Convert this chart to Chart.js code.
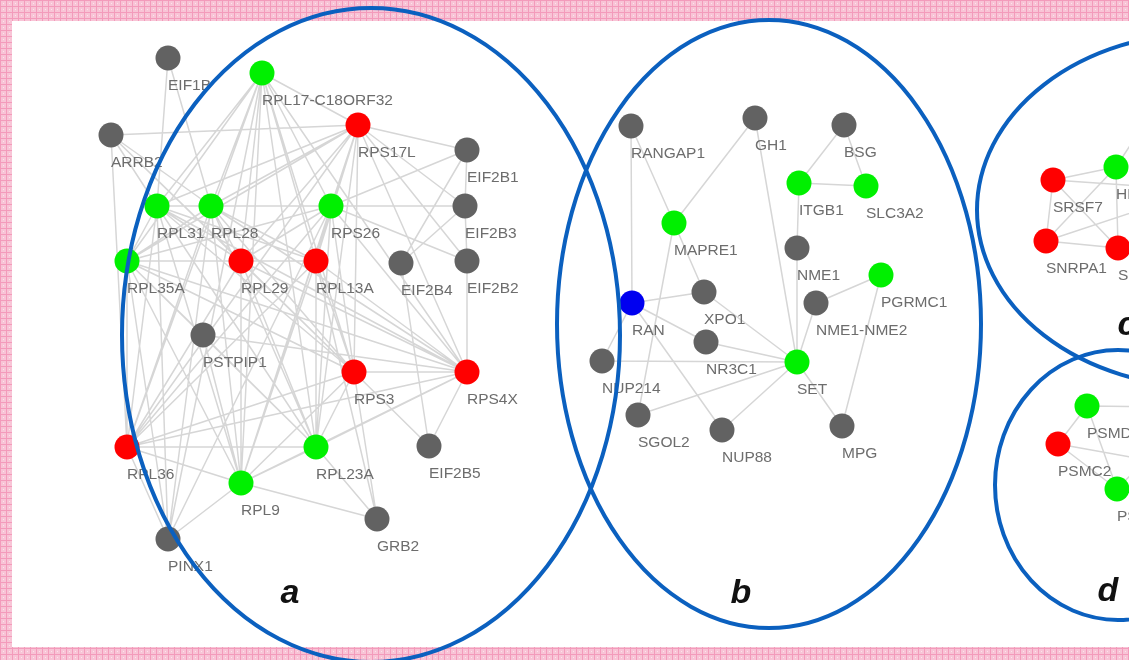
<!DOCTYPE html>
<html>
<head>
<meta charset="utf-8">
<script src="https://cdn.jsdelivr.net/npm/chart.js@4.4.1/dist/chart.umd.min.js"></script>
<style>
html, body { margin: 0; padding: 0; background: #fff; }
#wrap { width: 1129px; height: 660px; position: relative; }
</style>
</head>
<body>
<div id="wrap"><canvas id="chart_networkModules"></canvas></div>
<script>
// node table, coordinates (y grows downwards)
var nodeNames = [
  'EIF1B', 'RPL17-C18ORF32', 'ARRB2', 'RPS17L', 'EIF2B1', 'RPL31', 'RPL28', 'RPS26',
  'EIF2B3', 'RPL35A', 'RPL29', 'RPL13A', 'EIF2B4', 'EIF2B2', 'PSTPIP1', 'RPS3',
  'RPS4X', 'RPL36', 'RPL23A', 'EIF2B5', 'RPL9', 'GRB2', 'PINX1',
  'RANGAP1', 'GH1', 'BSG', 'ITGB1', 'SLC3A2', 'MAPRE1', 'NME1', 'PGRMC1', 'RAN',
  'XPO1', 'NME1-NME2', 'NR3C1', 'SET', 'NUP214', 'SGOL2', 'NUP88', 'MPG',
  'SRSF7', 'HNRNPA1', 'SNRPA1', 'SNRPB', 'c_x1', 'c_x2',
  'PSMD4', 'PSMC2', 'PSMA5', 'd_x1', 'd_x2', 'd_x3'
];
var nodeX = [
  168, 262, 111, 358, 467, 157, 211, 331,
  465, 127, 241, 316, 401, 467, 203, 354,
  467, 127, 316, 429, 241, 377, 168,
  631, 755, 844, 799, 866, 674, 797, 881, 632,
  704, 816, 706, 797, 602, 638, 722, 842,
  1053, 1116, 1046, 1118, 1150, 1200,
  1087, 1058, 1117, 1180, 1180, 1165
];
var nodeY = [
  58, 73, 135, 125, 150, 206, 206, 206,
  206, 261, 261, 261, 263, 261, 335, 372,
  372, 447, 447, 446, 483, 519, 539,
  126, 118, 125, 183, 186, 223, 248, 275, 303,
  292, 303, 342, 362, 361, 415, 430, 426,
  180, 167, 241, 248, 115, 190,
  406, 444, 489, 407, 466, 440
];
// n = no change, u = up, d = down, m = mutated, x = off the picture
var nodeKind = [
  'n', 'u', 'n', 'd', 'n', 'u', 'u', 'u',
  'n', 'u', 'd', 'd', 'n', 'n', 'n', 'd',
  'd', 'd', 'u', 'n', 'u', 'n', 'n',
  'n', 'n', 'n', 'u', 'u', 'u', 'n', 'u', 'm',
  'n', 'n', 'n', 'u', 'n', 'n', 'n', 'n',
  'd', 'u', 'd', 'd', 'x', 'x',
  'u', 'd', 'u', 'x', 'x', 'x'
];

// adjacency lists
var links = [
  ['RPL17-C18ORF32', ['RPS17L', 'RPL31', 'RPL28', 'RPS26', 'RPL35A', 'RPL29', 'RPL13A', 'RPS3', 'RPS4X', 'RPL36', 'RPL23A', 'RPL9', 'PINX1']],
  ['RPS17L', ['ARRB2', 'RPL31', 'RPL28', 'RPS26', 'RPL35A', 'RPL29', 'RPL13A', 'RPS3', 'RPS4X', 'RPL36', 'RPL23A', 'RPL9', 'EIF2B1', 'EIF2B3', 'EIF2B2']],
  ['RPL31', ['EIF1B', 'ARRB2', 'RPL28', 'RPL35A', 'RPL29', 'RPL13A', 'RPS3', 'RPS4X', 'RPL36', 'RPL23A', 'RPL9', 'PINX1']],
  ['RPL28', ['ARRB2', 'RPS26', 'RPL35A', 'RPL29', 'RPL13A', 'RPS3', 'RPS4X', 'RPL36', 'RPL23A', 'RPL9', 'PINX1', 'EIF1B']],
  ['RPS26', ['RPL35A', 'RPL29', 'RPL13A', 'RPS3', 'RPS4X', 'RPL36', 'RPL23A', 'RPL9', 'EIF2B1', 'EIF2B3', 'EIF2B2', 'PINX1']],
  ['RPL35A', ['RPL29', 'RPS3', 'RPS4X', 'RPL36', 'RPL23A', 'RPL9', 'PSTPIP1', 'PINX1']],
  ['RPL29', ['RPL13A', 'RPS3', 'RPS4X', 'RPL36', 'RPL23A', 'RPL9', 'ARRB2']],
  ['RPL13A', ['RPS3', 'RPS4X', 'RPL36', 'RPL23A', 'RPL9', 'GRB2']],
  ['RPS3', ['RPS4X', 'RPL36', 'RPL23A', 'RPL9', 'EIF2B5', 'GRB2', 'ARRB2']],
  ['RPS4X', ['RPL36', 'RPL23A', 'RPL9', 'EIF2B2', 'EIF2B5', 'PSTPIP1']],
  ['RPL36', ['RPL23A', 'RPL9', 'ARRB2', 'PINX1']],
  ['RPL23A', ['RPL9', 'GRB2', 'PSTPIP1']],
  ['RPL9', ['GRB2', 'PINX1', 'PSTPIP1']],
  ['EIF2B1', ['EIF2B3', 'EIF2B4']],
  ['EIF2B3', ['EIF2B2', 'EIF2B4']],
  ['EIF2B4', ['EIF2B5']],
  ['RANGAP1', ['RAN', 'MAPRE1']],
  ['GH1', ['MAPRE1', 'SET']],
  ['BSG', ['ITGB1', 'SLC3A2']],
  ['ITGB1', ['SLC3A2', 'NME1']],
  ['NME1', ['SET']],
  ['MAPRE1', ['XPO1', 'SGOL2']],
  ['RAN', ['XPO1', 'NR3C1', 'NUP214', 'NUP88']],
  ['SET', ['XPO1', 'NR3C1', 'NUP214', 'SGOL2', 'NUP88', 'NME1-NME2', 'MPG']],
  ['NME1-NME2', ['PGRMC1']],
  ['PGRMC1', ['MPG']],
  ['SRSF7', ['HNRNPA1', 'SNRPA1', 'SNRPB', 'c_x2']],
  ['HNRNPA1', ['SNRPA1', 'SNRPB', 'c_x1']],
  ['SNRPA1', ['SNRPB', 'c_x2']],
  ['PSMD4', ['PSMC2', 'PSMA5', 'd_x1']],
  ['PSMC2', ['PSMA5', 'd_x2']],
  ['PSMA5', ['d_x3']]
];

var moduleLetters = ['a', 'b', 'c', 'd'];

var kindColor = { n: '#626262', u: '#00f000', d: '#ff0000', m: '#0000f0', x: 'rgba(0,0,0,0)' };

function idx(name) { return nodeNames.indexOf(name); }

var edgePoints = [];
links.forEach(function (l) {
  var a = idx(l[0]);
  l[1].forEach(function (t) {
    var b = idx(t);
    edgePoints.push({ x: nodeX[a], y: nodeY[a] });
    edgePoints.push({ x: nodeX[b], y: nodeY[b] });
    edgePoints.push({ x: null, y: null });
  });
});

var nodePoints = nodeNames.map(function (n, i) { return { x: nodeX[i], y: nodeY[i] }; });

var backdrop = {
  id: 'backdrop',
  beforeDraw: function (chart) {
    var ctx = chart.ctx, w = chart.width, h = chart.height;
    ctx.save();
    ctx.fillStyle = '#f8c4d6';
    ctx.fillRect(0, 0, w, h);
    ctx.strokeStyle = '#f39bbb';
    ctx.lineWidth = 1;
    ctx.beginPath();
    for (var gx = 0.5; gx < w; gx += 6) { ctx.moveTo(gx, 0); ctx.lineTo(gx, h); }
    for (var gy = 0.5; gy < h; gy += 6) { ctx.moveTo(0, gy); ctx.lineTo(w, gy); }
    ctx.stroke();
    ctx.fillStyle = '#fde3ec';
    for (var px = 3; px < w; px += 6) {
      for (var py = 3; py < h; py += 6) { ctx.fillRect(px, py, 1, 1); }
    }
    ctx.fillStyle = '#ffffff';
    ctx.fillRect(12, 21, w - 12, 626);
    ctx.restore();
  }
};

var overlay = {
  id: 'overlay',
  afterDatasetsDraw: function (chart) {
    var ctx = chart.ctx, xs = chart.scales.x, ys = chart.scales.y;
    ctx.save();
    // node labels
    ctx.font = '15.5px "Liberation Sans", Arial, sans-serif';
    ctx.fillStyle = '#6d6d6d';
    ctx.textAlign = 'left';
    ctx.textBaseline = 'alphabetic';
    nodeNames.forEach(function (n, i) {
      if (nodeKind[i] === 'x') return;
      ctx.fillText(n, xs.getPixelForValue(nodeX[i]), ys.getPixelForValue(nodeY[i]) + 32);
    });
    // module outlines
    var rings = [[371, 335, 249, 327], [769, 324, 212, 304], [1205, 210, 228, 177], [1118, 485, 123, 135]];
    ctx.strokeStyle = '#0b60bf';
    ctx.lineWidth = 4;
    rings.forEach(function (r) {
      var cx = xs.getPixelForValue(r[0]), cy = ys.getPixelForValue(r[1]);
      var rx = Math.abs(xs.getPixelForValue(r[0] + r[2]) - cx);
      var ry = Math.abs(ys.getPixelForValue(r[1] + r[3]) - cy);
      ctx.beginPath();
      ctx.ellipse(cx, cy, rx, ry, 0, 0, Math.PI * 2);
      ctx.stroke();
    });
    // module letters
    var spots = [[290, 603], [741, 603], [1127, 335], [1108, 601]];
    ctx.font = 'italic bold 34px "Liberation Sans", Arial, sans-serif';
    ctx.fillStyle = '#111';
    ctx.textAlign = 'center';
    moduleLetters.forEach(function (t, i) {
      ctx.fillText(t, xs.getPixelForValue(spots[i][0]), ys.getPixelForValue(spots[i][1]));
    });
    ctx.restore();
  }
};

var chart_networkModules = new Chart(document.getElementById('chart_networkModules'), {
  type: 'scatter',
  data: {
    datasets: [
      {
        label: 'edges',
        data: edgePoints,
        showLine: true,
        spanGaps: false,
        borderColor: '#d6d6d6',
        borderWidth: 1.5,
        pointRadius: 0,
        order: 2
      },
      {
        label: 'nodes',
        data: nodePoints,
        pointRadius: 12.5,
        pointBorderWidth: 0,
        pointBackgroundColor: nodeKind.map(function (k) { return kindColor[k]; }),
        pointBorderColor: 'rgba(0,0,0,0)',
        order: 1
      }
    ]
  },
  options: {
    animation: false,
    responsive: true,
    maintainAspectRatio: false,
    events: [],
    layout: { padding: 0, autoPadding: false },
    plugins: {
      legend: { display: false },
      tooltip: { enabled: false }
    },
    scales: {
      x: { type: 'linear', min: 0, max: 1129, display: false },
      y: { type: 'linear', min: 0, max: 660, reverse: true, display: false }
    }
  },
  plugins: [backdrop, overlay]
});
</script>
</body>
</html>
